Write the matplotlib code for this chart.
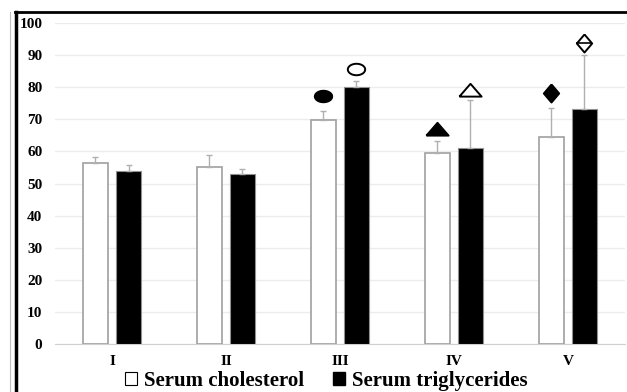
import matplotlib.pyplot as plt
import numpy as np
from matplotlib.patches import Patch
from matplotlib.lines import Line2D

groups = ['I', 'II', 'III', 'IV', 'V']
cholesterol = [56.5, 55.2, 69.8, 59.4, 64.4]
chol_err = [1.8, 3.6, 2.8, 3.8, 9.0]
triglycerides = [53.9, 52.9, 80.0, 61.2, 73.1]
trig_err = [1.9, 1.5, 2.0, 14.8, 16.9]

# significance symbols: (group index, y value, shape, filled)
sig_chol = [(2, 77.3, 'ellipse', True), (3, 67.1, 'tri', True), (4, 78.1, 'diamond', True)]
sig_trig = [(2, 85.6, 'ellipse', False), (3, 79.1, 'tri', False), (4, 93.7, 'diamond', False)]

plt.rcParams['font.family'] = ['Liberation Serif', 'DejaVu Serif']
plt.rcParams['font.weight'] = 'bold'

fig = plt.figure(figsize=(6.27, 3.92), dpi=100)
ax = fig.add_axes([0.0877, 0.1224, 0.909, 0.8189])

x = np.arange(len(groups))
w = 0.22
off = 0.145
ax.bar(x - off, cholesterol, w, color='white', edgecolor='#a0a0a0', linewidth=1.2,
       yerr=[np.zeros(5), chol_err], ecolor='#b0b0b0', capsize=2.5,
       error_kw=dict(elinewidth=1, capthick=1), zorder=3)
ax.bar(x + off, triglycerides, w, color='black', edgecolor='#909090', linewidth=0.8,
       yerr=[np.zeros(5), trig_err], ecolor='#b0b0b0', capsize=2.5,
       error_kw=dict(elinewidth=1, capthick=1), zorder=3)

t = np.linspace(0, 2 * np.pi, 60)
shapes = {
    'ellipse': (list(zip(np.cos(t), 0.66 * np.sin(t))), 12.5),
    'tri': ([(-1, -0.55), (1, -0.55), (0, 0.6), (-1, -0.55)], 16.0),
    'diamond': ([(0, 1), (0.85, 0), (0, -1), (-0.85, 0), (0, 1)], 13.0),
}

def draw_sig(items, xoff):
    for i, yv, shape, filled in items:
        verts, ms = shapes[shape]
        xx = x[i] + xoff
        ax.plot(xx, yv, marker=verts, ms=ms, mfc='black' if filled else 'white',
                mec='black', mew=1.4, zorder=5)
        if shape == 'diamond' and not filled:
            ax.plot(xx, yv, marker=[(-0.85, 0), (0.85, 0)], ms=ms * 0.85, mec='black',
                    mew=1.2, zorder=6)

draw_sig(sig_chol, -off)
draw_sig(sig_trig, off)

ax.set_xlim(-0.5, 4.5)
ax.set_ylim(0, 100)
ax.set_yticks(np.arange(0, 101, 10))
ax.set_xticks(x)
ax.set_xticklabels(groups)
ax.tick_params(axis='both', length=0, labelsize=11)
ax.tick_params(axis='y', pad=9)
ax.tick_params(axis='x', pad=8)
ax.grid(axis='y', color='#ececec', linewidth=1, zorder=0)
for s in ['top', 'right', 'left']:
    ax.spines[s].set_visible(False)
ax.spines['bottom'].set_color('#d0d0d0')

handles = [Patch(facecolor='white', edgecolor='black', linewidth=0.8),
           Patch(facecolor='black', edgecolor='black')]
fig.legend(handles, ['Serum cholesterol', 'Serum triglycerides'], loc='center',
           bbox_to_anchor=(0.52, 0.028), ncol=2, frameon=False, fontsize=15,
           handlelength=0.6, handleheight=0.6, handletextpad=0.3, columnspacing=1.4)

# image border
fig.add_artist(Line2D([0.026, 0.026], [0, 0.97], color='black', lw=2.5))
fig.add_artist(Line2D([0.024, 1.0], [0.969, 0.969], color='black', lw=2))
fig.add_artist(Line2D([0.016, 0.016], [0, 0.97], color='#c0c0c0', lw=0.8))

fig.savefig('out.png', dpi=100)
